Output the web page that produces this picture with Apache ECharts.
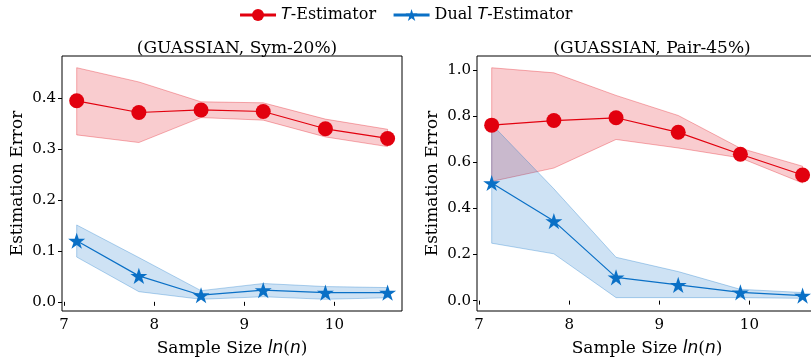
<!DOCTYPE html>
<html>
<head>
<meta charset="utf-8">
<script src="https://cdn.jsdelivr.net/npm/echarts@6/dist/echarts.min.js"></script>
<style>
  html, body { margin: 0; padding: 0; background: #fff; }
  #chart { width: 811px; height: 358px; }
</style>
</head>
<body>
<div id="chart"></div>
<script>
// sample sizes ln(n), n = 1250 ... 40000
const xs = [7.14, 7.83, 8.52, 9.21, 9.90, 10.59];

// (GUASSIAN, Sym-20%)
const symT = [0.395, 0.372, 0.377, 0.374, 0.340, 0.321];
const symTLow = [0.328, 0.313, 0.362, 0.357, 0.324, 0.305];
const symTHigh = [0.460, 0.432, 0.393, 0.391, 0.359, 0.339];
const symDual = [0.120, 0.051, 0.013, 0.023, 0.018, 0.018];
const symDualLow = [0.088, 0.020, 0.005, 0.010, 0.005, 0.008];
const symDualHigh = [0.151, 0.087, 0.022, 0.036, 0.030, 0.028];

// (GUASSIAN, Pair-45%)
const pairT = [0.761, 0.781, 0.793, 0.730, 0.635, 0.545];
const pairTLow = [0.517, 0.575, 0.699, 0.662, 0.619, 0.510];
const pairTHigh = [1.010, 0.988, 0.890, 0.803, 0.661, 0.583];
const pairDual = [0.510, 0.345, 0.101, 0.068, 0.036, 0.022];
const pairDualLow = [0.249, 0.203, 0.013, 0.013, 0.013, 0.010];
const pairDualHigh = [0.765, 0.485, 0.188, 0.126, 0.049, 0.035];

const xTicks = [7, 8, 9, 10];
const symYTicks = [0.0, 0.1, 0.2, 0.3, 0.4];
const pairYTicks = [0.0, 0.2, 0.4, 0.6, 0.8, 1.0];

const RED = '#e2000e';
const BLUE = '#0a70c6';
const SERIF = 'DejaVu Serif';
const STAR = 'path://M0 -1 L0.2245 -0.309 L0.951 -0.309 L0.363 0.118 L0.588 0.809 L0 0.382 L-0.588 0.809 L-0.363 0.118 L-0.951 -0.309 L-0.2245 -0.309 Z';

const chart = echarts.init(document.getElementById('chart'));

function band(name, idx, low, high, fill, edge) {
  return {
    name: name,
    type: 'custom',
    xAxisIndex: idx,
    yAxisIndex: idx,
    silent: true,
    z: 1,
    data: xs.map((x, i) => [x, low[i], high[i]]),
    renderItem: function (params, api) {
      if (params.dataIndex !== 0) return null;
      const top = xs.map((x, i) => api.coord([x, high[i]]));
      const bot = xs.map((x, i) => api.coord([x, low[i]])).reverse();
      return {
        type: 'polygon',
        shape: { points: top.concat(bot) },
        style: { fill: fill, stroke: edge, lineWidth: 1 }
      };
    }
  };
}

function line(name, idx, vals, color, symbol, size) {
  return {
    name: name,
    type: 'line',
    xAxisIndex: idx,
    yAxisIndex: idx,
    z: 3,
    data: xs.map((x, i) => [x, vals[i]]),
    symbol: symbol,
    symbolSize: size,
    symbolKeepAspect: true,
    showAllSymbol: true,
    lineStyle: { color: color, width: 1.2 },
    itemStyle: { color: color },
    emphasis: { disabled: true }
  };
}

function xAxis(idx) {
  return {
    type: 'value',
    gridIndex: idx,
    min: 6.977,
    max: 10.75,
    name: '{s|Sample Size }{i|ln}{s|(}{i|n}{s|)}',
    nameLocation: 'middle',
    nameGap: 29,
    nameTextStyle: {
      rich: {
        s: { fontFamily: SERIF, fontSize: 17, color: '#000' },
        i: { fontFamily: 'DejaVu Sans', fontStyle: 'italic', fontSize: 17, color: '#000' }
      }
    },
    axisLine: { show: false },
    splitLine: { show: false },
    axisTick: { show: true, length: 4, customValues: xTicks, lineStyle: { color: '#000' } },
    axisLabel: { customValues: xTicks, fontFamily: SERIF, fontSize: 15, color: '#000', margin: 7 }
  };
}

function yAxis(idx, min, max, ticks, digits) {
  return {
    type: 'value',
    gridIndex: idx,
    min: min,
    max: max,
    name: 'Estimation Error',
    nameLocation: 'middle',
    nameGap: 36,
    nameTextStyle: { fontFamily: SERIF, fontSize: 17, color: '#000' },
    axisLine: { show: false },
    splitLine: { show: false },
    axisTick: { show: true, length: 4, customValues: ticks, lineStyle: { color: '#000' } },
    axisLabel: {
      customValues: ticks, fontFamily: SERIF, fontSize: 15, color: '#000', margin: 6,
      formatter: v => v.toFixed(digits)
    }
  };
}

const option = {
  backgroundColor: '#fff',
  animation: false,
  title: [
    { text: '(GUASSIAN, Sym-20%)', left: 232, top: 35, textAlign: 'center',
      textStyle: { fontFamily: SERIF, fontSize: 17, fontWeight: 'normal', color: '#000' } },
    { text: '(GUASSIAN, Pair-45%)', left: 647, top: 35, textAlign: 'center',
      textStyle: { fontFamily: SERIF, fontSize: 17, fontWeight: 'normal', color: '#000' } }
  ],
  legend: {
    data: ['T-Estimator', 'Dual T-Estimator'],
    top: 2,
    left: 'center',
    itemWidth: 36,
    itemHeight: 15,
    itemGap: 16,
    lineStyle: { width: 3 },
    formatter: n => n === 'T-Estimator' ? '{i|T}-Estimator' : 'Dual {i|T}-Estimator',
    textStyle: {
      fontFamily: SERIF, fontSize: 16, color: '#000',
      rich: {
        i: { fontFamily: 'DejaVu Sans', fontStyle: 'italic', fontSize: 16, color: '#000' }
      }
    }
  },
  grid: [
    { left: 62, right: 409, top: 56, bottom: 47, outerBoundsMode: 'none', show: true, borderColor: '#000', borderWidth: 1, backgroundColor: 'transparent' },
    { left: 477, right: -6, top: 56, bottom: 47, outerBoundsMode: 'none', show: true, borderColor: '#000', borderWidth: 1, backgroundColor: 'transparent' }
  ],
  xAxis: [xAxis(0), xAxis(1)],
  yAxis: [
    yAxis(0, -0.018, 0.483, symYTicks, 1),
    yAxis(1, -0.045, 1.061, pairYTicks, 1)
  ],
  series: [
    band('bandT0', 0, symTLow, symTHigh, 'rgba(226,0,14,0.2)', 'rgba(226,0,14,0.3)'),
    line('T-Estimator', 0, symT, RED, 'circle', 15),
    band('bandD0', 0, symDualLow, symDualHigh, 'rgba(10,112,198,0.2)', 'rgba(10,112,198,0.3)'),
    line('Dual T-Estimator', 0, symDual, BLUE, STAR, 17),
    band('bandT1', 1, pairTLow, pairTHigh, 'rgba(226,0,14,0.2)', 'rgba(226,0,14,0.3)'),
    line('T-Estimator', 1, pairT, RED, 'circle', 15),
    band('bandD1', 1, pairDualLow, pairDualHigh, 'rgba(10,112,198,0.2)', 'rgba(10,112,198,0.3)'),
    line('Dual T-Estimator', 1, pairDual, BLUE, STAR, 17)
  ]
};

chart.setOption(option);
</script>
</body>
</html>
